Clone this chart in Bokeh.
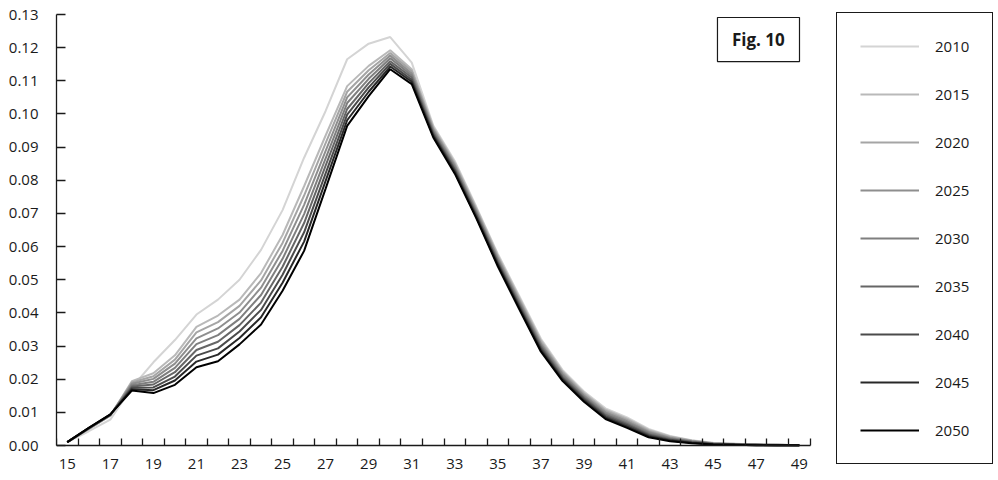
from bokeh.plotting import figure
from bokeh.models import (Range1d, FixedTicker, PrintfTickFormatter, Legend,
                          LegendItem, BoxAnnotation, Label)
from bokeh.embed import file_html
from bokeh.resources import INLINE

ages = list(range(15, 50))
x_label_ages = [15, 17, 19, 21, 23, 25, 27, 29, 31, 33, 35, 37, 39, 41, 43, 45, 47, 49]
y_ticks = [0.00, 0.01, 0.02, 0.03, 0.04, 0.05, 0.06, 0.07, 0.08, 0.09, 0.10, 0.11, 0.12, 0.13]
years = ["2010", "2015", "2020", "2025", "2030", "2035", "2040", "2045", "2050"]

s2010 = [0.0010, 0.0043, 0.0078, 0.0175, 0.0251, 0.0318, 0.0395, 0.0440, 0.0500, 0.0590,
         0.0710, 0.0868, 0.1009, 0.1165, 0.1212, 0.1232, 0.1155, 0.0965, 0.0858, 0.0720,
         0.0578, 0.0450, 0.0322, 0.0228, 0.0163, 0.0112, 0.0085, 0.0050, 0.0029, 0.0016,
         0.0008, 0.0005, 0.0003, 0.0002, 0.0001]
s2015 = [0.0010, 0.0050, 0.0090, 0.0194, 0.0218, 0.0272, 0.0358, 0.0392, 0.0440, 0.0520,
         0.0635, 0.0782, 0.0935, 0.1084, 0.1145, 0.1192, 0.1135, 0.0961, 0.0853, 0.0716,
         0.0573, 0.0445, 0.0317, 0.0224, 0.0159, 0.0108, 0.0081, 0.0047, 0.0027, 0.0015,
         0.0007, 0.0005, 0.0003, 0.0002, 0.0001]
s2020 = [0.0010, 0.0050, 0.0091, 0.0190, 0.0209, 0.0259, 0.0341, 0.0372, 0.0421, 0.0498,
         0.0611, 0.0754, 0.0912, 0.1067, 0.1132, 0.1184, 0.1129, 0.0956, 0.0848, 0.0711,
         0.0569, 0.0440, 0.0312, 0.0220, 0.0155, 0.0104, 0.0077, 0.0044, 0.0025, 0.0014,
         0.0007, 0.0004, 0.0003, 0.0002, 0.0001]
s2025 = [0.0010, 0.0051, 0.0091, 0.0186, 0.0201, 0.0247, 0.0323, 0.0353, 0.0401, 0.0476,
         0.0587, 0.0726, 0.0889, 0.1050, 0.1119, 0.1176, 0.1122, 0.0952, 0.0844, 0.0707,
         0.0564, 0.0435, 0.0307, 0.0216, 0.0151, 0.0100, 0.0073, 0.0041, 0.0023, 0.0013,
         0.0006, 0.0004, 0.0002, 0.0002, 0.0001]
s2030 = [0.0010, 0.0051, 0.0092, 0.0182, 0.0192, 0.0234, 0.0306, 0.0333, 0.0382, 0.0454,
         0.0563, 0.0698, 0.0866, 0.1033, 0.1106, 0.1168, 0.1116, 0.0947, 0.0839, 0.0703,
         0.0559, 0.0430, 0.0303, 0.0212, 0.0148, 0.0096, 0.0069, 0.0038, 0.0021, 0.0012,
         0.0006, 0.0003, 0.0002, 0.0001, 0.0001]
s2035 = [0.0010, 0.0052, 0.0092, 0.0178, 0.0184, 0.0221, 0.0288, 0.0313, 0.0363, 0.0431,
         0.0539, 0.0671, 0.0844, 0.1015, 0.1093, 0.1159, 0.1110, 0.0943, 0.0834, 0.0698,
         0.0554, 0.0425, 0.0298, 0.0207, 0.0144, 0.0092, 0.0065, 0.0034, 0.0019, 0.0011,
         0.0005, 0.0003, 0.0002, 0.0001, 0.0001]
s2040 = [0.0010, 0.0052, 0.0093, 0.0174, 0.0175, 0.0208, 0.0271, 0.0293, 0.0344, 0.0409,
         0.0515, 0.0643, 0.0821, 0.0998, 0.1080, 0.1151, 0.1103, 0.0938, 0.0830, 0.0694,
         0.0550, 0.0420, 0.0293, 0.0203, 0.0140, 0.0088, 0.0061, 0.0031, 0.0017, 0.0009,
         0.0004, 0.0003, 0.0002, 0.0001, 0.0001]
s2045 = [0.0010, 0.0053, 0.0093, 0.0170, 0.0167, 0.0196, 0.0253, 0.0274, 0.0324, 0.0387,
         0.0491, 0.0615, 0.0798, 0.0981, 0.1067, 0.1143, 0.1097, 0.0934, 0.0825, 0.0689,
         0.0545, 0.0415, 0.0288, 0.0199, 0.0136, 0.0084, 0.0057, 0.0028, 0.0015, 0.0008,
         0.0004, 0.0002, 0.0001, 0.0001, 0.0001]
s2050 = [0.0010, 0.0053, 0.0094, 0.0166, 0.0158, 0.0183, 0.0236, 0.0254, 0.0305, 0.0365,
         0.0467, 0.0587, 0.0775, 0.0964, 0.1054, 0.1135, 0.1090, 0.0929, 0.0820, 0.0685,
         0.0540, 0.0410, 0.0283, 0.0195, 0.0132, 0.0080, 0.0053, 0.0025, 0.0013, 0.0007,
         0.0003, 0.0002, 0.0001, 0.0001, 0.0001]

series = [s2010, s2015, s2020, s2025, s2030, s2035, s2040, s2045, s2050]
colors = ["#d4d4d4", "#b9b9b9", "#a5a5a5", "#8e8e8e", "#7f7f7f",
          "#666666", "#4b4b4b", "#282828", "#000000"]

FONT = "Open Sans"
TXT = "#1a1a1a"

# The frame spans the whole area right of the y axis, so that the legend
# (drawn inside the frame) is not clipped; the axes are bounded to the data.
X_END = 14.5 + (998 - 56) / 21.53
Y_START = -0.13 * (480 - 445) / 431
Y_END = 0.13 + 0.13 * 14 / 431

p = figure(width=998, height=480, output_backend="svg", toolbar_location=None,
           x_range=Range1d(14.5, X_END), y_range=Range1d(Y_START, Y_END),
           min_border_left=56, min_border_right=0, min_border_top=0,
           min_border_bottom=0)
p.outline_line_color = None
p.xgrid.visible = False
p.ygrid.visible = False
p.background_fill_color = "white"
p.border_fill_color = "white"

items = []
for yr, vals, col in zip(years, series, colors):
    r = p.line(ages, vals, line_color=col, line_width=2)
    items.append(LegendItem(label=yr, renderers=[r]))

# y axis
p.yaxis.ticker = FixedTicker(ticks=y_ticks)
p.yaxis.formatter = PrintfTickFormatter(format="%.2f")
p.yaxis.bounds = (0, 0.13)
p.yaxis.major_tick_in = 9
p.yaxis.major_tick_out = 0
p.yaxis.minor_tick_in = 0
p.yaxis.minor_tick_out = 0
p.yaxis.axis_line_width = 1.3
p.yaxis.axis_line_color = TXT
p.yaxis.major_tick_line_color = TXT
p.yaxis.major_tick_line_width = 1.3
p.yaxis.major_label_standoff = 18
p.yaxis.major_label_text_font = FONT
p.yaxis.major_label_text_font_size = "15px"
p.yaxis.major_label_text_color = TXT

# x axis, fixed at y = 0
boundaries = [a - 0.5 for a in ages] + [ages[-1] + 0.5]
p.xaxis.fixed_location = 0
p.xaxis.bounds = (14.5, 49.5)
p.xaxis.ticker = FixedTicker(ticks=x_label_ages, minor_ticks=boundaries)
p.xaxis.major_tick_in = 0
p.xaxis.major_tick_out = 0
p.xaxis.minor_tick_in = 7
p.xaxis.minor_tick_out = 0
p.xaxis.minor_tick_line_color = TXT
p.xaxis.minor_tick_line_width = 1.3
p.xaxis.axis_line_width = 1.3
p.xaxis.axis_line_color = TXT
p.xaxis.major_label_standoff = 13
p.xaxis.major_label_text_font = FONT
p.xaxis.major_label_text_font_size = "15px"
p.xaxis.major_label_text_color = TXT

fig_box = BoxAnnotation(left=45.2, right=49.01, bottom=0.1158, top=0.1291,
                        fill_color=None, line_color=TXT, line_width=1.2,
                        line_alpha=1, line_dash="solid")
p.add_layout(fig_box)
p.add_layout(Label(x=47.1, y=0.1225, text="Fig. 10", text_align="center",
                   text_baseline="middle", text_font=FONT, text_font_style="bold",
                   text_font_size="17px", text_color=TXT))

legend = Legend(items=items, location=(780, 16), ncols=1, padding=23, spacing=28,
                glyph_width=59, glyph_height=20, label_height=20, label_width=30,
                label_standoff=16, border_line_color=TXT, border_line_width=1,
                border_line_alpha=1, background_fill_color="white",
                background_fill_alpha=1, label_text_font=FONT,
                label_text_font_size="15px", label_text_color=TXT, margin=0)
p.add_layout(legend)

open("out.html", "w").write(file_html(p, INLINE))
